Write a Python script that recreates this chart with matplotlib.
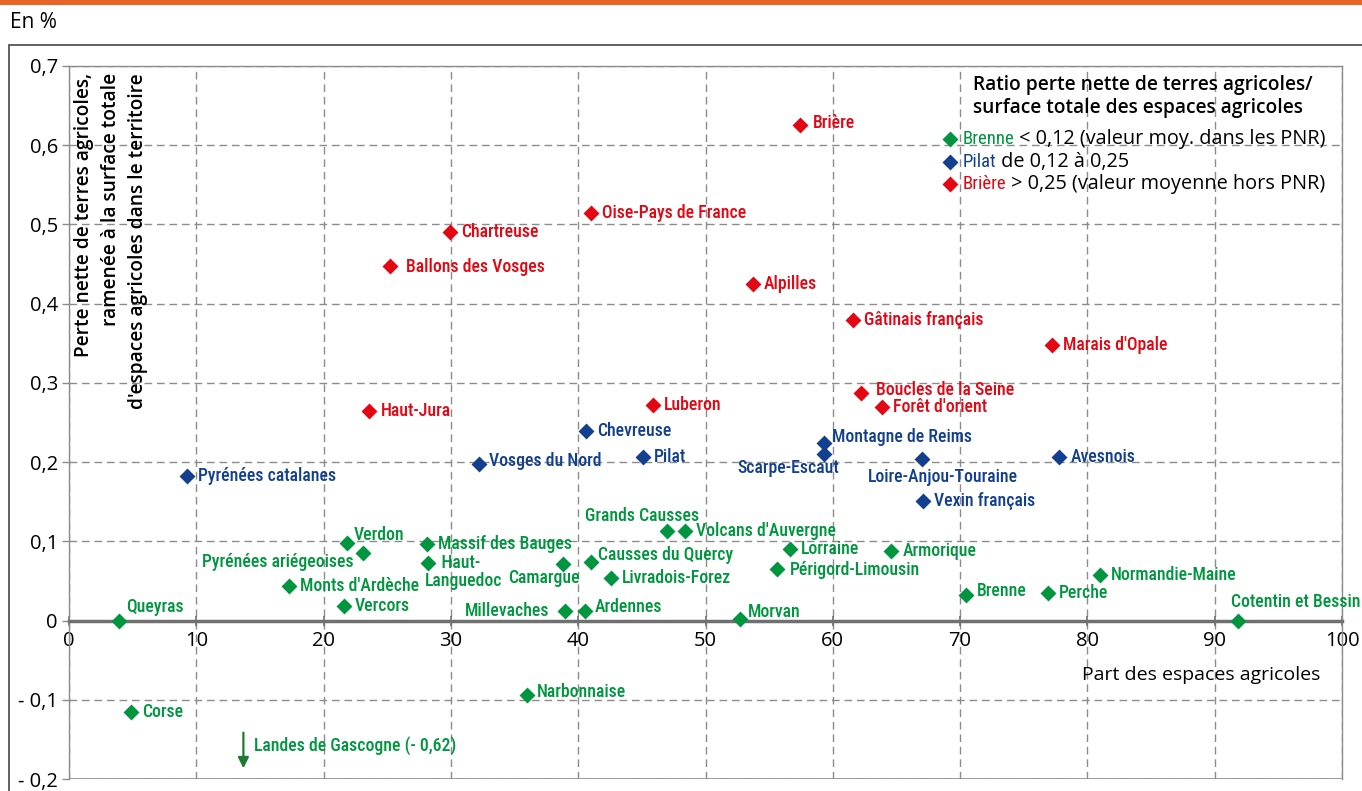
import matplotlib
matplotlib.use('Agg')
import matplotlib.pyplot as plt
from matplotlib.patches import Rectangle
from matplotlib.lines import Line2D
from matplotlib.offsetbox import TextArea, HPacker, VPacker, DrawingArea, AnchoredOffsetbox
from matplotlib.ticker import FuncFormatter, MultipleLocator

LABEL_FONT = ['Roboto Condensed', 'Liberation Sans Narrow', 'Roboto', 'DejaVu Sans']
TEXT_FONT = ['Open Sans', 'DejaVu Sans']

GREEN = '#00963f'
BLUE = '#133f8f'
RED = '#e30613'

# ratio < 0,12
green_names = ['Queyras', 'Corse', 'Landes de Gascogne', "Monts d'Ardèche", 'Vercors', 'Verdon',
               'Pyrénées ariégeoises', 'Massif des Bauges', 'Haut-Languedoc', 'Narbonnaise',
               'Millevaches', 'Camargue', 'Ardennes', 'Causses du Quercy', 'Livradois-Forez',
               'Grands Causses', "Volcans d'Auvergne", 'Morvan', 'Périgord-Limousin', 'Lorraine',
               'Armorique', 'Brenne', 'Perche', 'Normandie-Maine', 'Cotentin et Bessin']
green_x = [3.9, 4.9, 13.7, 17.3, 21.6, 21.8, 23.1, 28.1, 28.2, 36.0, 39.0, 38.8, 40.5, 41.0,
           42.6, 47.0, 48.4, 52.7, 55.6, 56.6, 64.6, 70.5, 76.9, 81.0, 91.8]
green_y = [0.0, -0.115, -0.62, 0.044, 0.018, 0.098, 0.085, 0.097, 0.073, -0.094, 0.012, 0.071,
           0.012, 0.074, 0.054, 0.113, 0.113, 0.002, 0.065, 0.090, 0.088, 0.032, 0.035, 0.057, 0.0]

# ratio de 0,12 a 0,25
blue_names = ['Pyrénées catalanes', 'Vosges du Nord', 'Chevreuse', 'Pilat', 'Montagne de Reims',
              'Scarpe-Escaut', 'Loire-Anjou-Touraine', 'Vexin français', 'Avesnois']
blue_x = [9.3, 32.2, 40.6, 45.1, 59.3, 59.3, 67.0, 67.1, 77.8]
blue_y = [0.182, 0.198, 0.239, 0.207, 0.224, 0.210, 0.204, 0.151, 0.207]

# ratio > 0,25
red_names = ['Brière', 'Oise-Pays de France', 'Chartreuse', 'Ballons des Vosges', 'Alpilles',
             'Gâtinais français', "Marais d'Opale", 'Boucles de la Seine', "Forêt d'orient",
             'Haut-Jura', 'Luberon']
red_x = [57.4, 41.0, 29.9, 25.2, 53.7, 61.6, 77.2, 62.2, 63.9, 23.6, 45.9]
red_y = [0.626, 0.514, 0.491, 0.447, 0.425, 0.380, 0.348, 0.287, 0.270, 0.265, 0.272]

legend_names = ['Brenne', 'Pilat', 'Brière']
legend_texts = [' < 0,12 (valeur moy. dans les PNR)', ' de 0,12 à 0,25',
                ' > 0,25 (valeur moyenne hors PNR)']

# label placement (offset in pixels, horizontal alignment)
label_pos = {
    'Queyras': (7, 14, 'left'), 'Verdon': (7, 8, 'left'),
    'Pyrénées ariégeoises': (-9, -9, 'right'), 'Haut-Languedoc': (-3, -9, 'left'),
    'Camargue': (17, -14, 'right'), 'Millevaches': (-16, 0, 'right'),
    'Causses du Quercy': (7, 7, 'left'), 'Ardennes': (10, 4, 'left'),
    'Grands Causses': (32, 15, 'right'), 'Morvan': (8, 7, 'left'),
    'Brenne': (10, 4, 'left'), 'Cotentin et Bessin': (-7, 19, 'left'),
    'Narbonnaise': (10, 3, 'left'), 'Périgord-Limousin': (13, -1, 'left'),
    'Vosges du Nord': (10, 3, 'left'), 'Montagne de Reims': (8, 6, 'left'),
    'Scarpe-Escaut': (15, -14, 'right'), 'Loire-Anjou-Touraine': (21, -18, 'center'),
    'Ballons des Vosges': (16, -1, 'left'), 'Boucles de la Seine': (15, 3, 'left'),
    'Brière': (13, 2, 'left'),
}
display = {'Haut-Languedoc': '    Haut-\nLanguedoc'}

fig = plt.figure(figsize=(13.62, 7.91), dpi=100)
fig.add_artist(Rectangle((0, 1 - 5 / 791), 1, 0.05, transform=fig.transFigure,
                         color='#e8652a', lw=0))
fig.add_artist(Rectangle((9 / 1362, -0.1), 2, 1.1 - 45 / 791, transform=fig.transFigure,
                         fill=False, ec='#555555', lw=1.3))
fig.text(10 / 1362, 1 - 22 / 791, 'En %', family=TEXT_FONT, fontsize=15, va='center')

ax = fig.add_axes([69 / 1362, 1 - 779 / 791, 1273 / 1362, 713 / 791])
ax.set_xlim(0, 100)
ax.set_ylim(-0.2, 0.7)
ax.xaxis.set_major_locator(MultipleLocator(10))
ax.yaxis.set_major_locator(MultipleLocator(0.1))


def yfmt(v, pos):
    if abs(v) < 1e-9:
        return '0'
    s = f'{abs(v):.1f}'.replace('.', ',')
    return '- ' + s if v < 0 else s


ax.yaxis.set_major_formatter(FuncFormatter(yfmt))
ax.grid(True, color='#8c8c8c', lw=1, ls=(0, (5.5, 3.5)), zorder=0)
ax.set_axisbelow(True)
for side in ['left', 'top', 'right']:
    ax.spines[side].set_color('#8c8c8c')
    ax.spines[side].set_linewidth(1)
ax.spines['bottom'].set_position(('data', 0))
ax.spines['bottom'].set_color('#707070')
ax.spines['bottom'].set_linewidth(2.5)
ax.axhline(-0.2, color='#8c8c8c', lw=1.2, zorder=1)
ax.tick_params(axis='x', direction='inout', length=7, width=1.2, color='#707070',
               labelsize=14.5, pad=4)
ax.tick_params(axis='y', direction='out', length=5, width=1, color='#8c8c8c',
               labelsize=14.5, pad=3)
for lab in ax.get_xticklabels() + ax.get_yticklabels():
    lab.set_family(TEXT_FONT)

groups = [(green_names, green_x, green_y, GREEN), (blue_names, blue_x, blue_y, BLUE),
          (red_names, red_x, red_y, RED)]
ymin = ax.get_ylim()[0]
for names, xs, ys, col in groups:
    for name, x, y in zip(names, xs, ys):
        if y < ymin:
            # hors echelle : fleche vers le bas
            ax.annotate('', xy=(x, ymin + 0.01), xytext=(x, ymin + 0.062),
                        arrowprops=dict(arrowstyle='-|>', color='#1e7b34', lw=1.6,
                                        mutation_scale=16), annotation_clip=False)
            txt = f'{name} (- {abs(y):.2f})'.replace('.', ',')
            ax.annotate(txt, (x, ymin + 0.042), xytext=(11, 0), textcoords='offset pixels',
                        color=col, family=LABEL_FONT, fontsize=12.8, fontweight='medium',
                        va='center', ha='left')
            continue
        ax.scatter([x], [y], marker='D', s=66, color=col, zorder=4, lw=0, clip_on=False)
        dx, dy, ha = label_pos.get(name, (11, 0, 'left'))
        ax.annotate(display.get(name, name), (x, y), xytext=(dx, dy),
                    textcoords='offset pixels', color=col, family=LABEL_FONT, fontsize=12.8,
                    fontweight='medium', va='center', ha=ha, annotation_clip=False,
                    linespacing=1.0, zorder=5)

ax.text(0.033, 0.99, "Perte nette de terres agricoles,\nramenée à la surface totale\n"
        "d'espaces agricoles dans le territoire", transform=ax.transAxes, rotation=90,
        va='top', ha='center', multialignment='right', family=TEXT_FONT, fontsize=13.8,
        fontweight='semibold', linespacing=1.45)
ax.text(0.9827, 0.1459, 'Part des espaces agricoles', transform=ax.transAxes, ha='right',
        va='center', family=TEXT_FONT, fontsize=14, fontweight='medium')

# legende
ax.text(0.7102, 0.988, 'Ratio perte nette de terres agricoles/\nsurface totale des espaces agricoles',
        transform=ax.transAxes, va='top', ha='left', family=TEXT_FONT, fontsize=13.8,
        fontweight='semibold', linespacing=1.2)
rows = []
for (names, xs, ys, col), lname, ltxt in zip(groups, legend_names, legend_texts):
    da = DrawingArea(12, 12, 0, 0)
    da.add_artist(Line2D([6], [6], marker='D', ms=8, color=col, mec='none', ls='none'))
    t1 = TextArea(lname, textprops=dict(color=col, family=LABEL_FONT, fontsize=13.5))
    t2 = TextArea(ltxt, textprops=dict(color='black', family=TEXT_FONT, fontsize=14.3))
    rows.append(HPacker(children=[da, HPacker(children=[t1, t2], sep=0, pad=0,
                                              align='baseline')],
                        sep=3, align='center', pad=0))
box = AnchoredOffsetbox(loc='upper left', child=VPacker(children=rows, sep=2, pad=0),
                        bbox_to_anchor=(0.6856, 0.912), bbox_transform=ax.transAxes,
                        frameon=False, pad=0, borderpad=0)
ax.add_artist(box)

fig.savefig('out.png', dpi=100)
